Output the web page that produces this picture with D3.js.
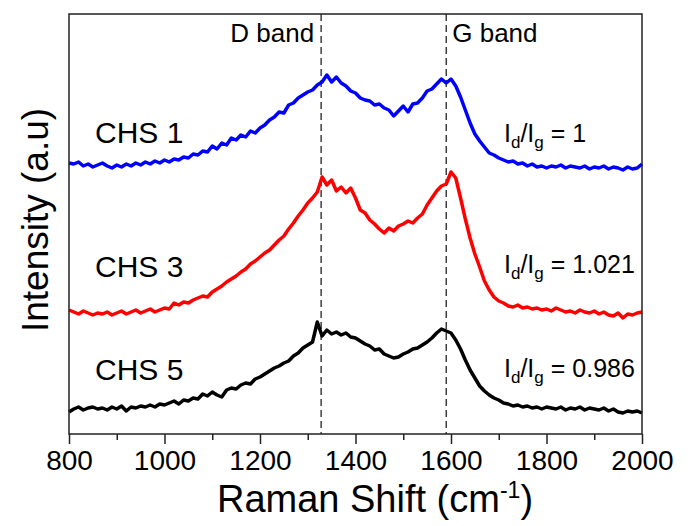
<!DOCTYPE html>
<html>
<head>
<meta charset="utf-8">
<script src="https://cdn.jsdelivr.net/npm/d3@7"></script>
<style>
  body { margin: 0; background: #fff; }
  text { font-family: "Liberation Sans", Arial, sans-serif; fill: #000; }
</style>
</head>
<body>
<script>
// raman shift values, every 10 cm-1 from 800 to 2000
var shifts = d3.range(800, 2001, 10);

// intensity (a.u.) of each sample, stacked with an offset
var chs1 = [271,270,272,268,270,267,269,271,268,266,269,267,270,268,271,269,272,270,273,271,
    274,272,275,274,277,276,280,279,283,282,288,285,291,289,296,294,299,297,303,301,
    306,309,314,317,322,321,329,331,336,339,342,344,349,352,359,352,357,351,348,343,
    341,336,334,333,329,330,326,324,318,323,328,322,330,331,336,343,345,350,355,351,
    355,348,337,324,311,300,293,287,281,279,276,274,272,273,270,271,268,270,267,268,
    266,268,267,269,266,268,267,266,268,265,267,266,268,265,267,266,264,267,265,266,270];

var chs3 = [124,122,120,123,121,119,121,120,122,119,121,123,120,122,124,121,123,125,122,124,
    126,125,131,129,132,131,134,136,138,137,142,145,148,152,155,158,162,165,170,173,
    177,181,184,189,194,198,205,211,218,224,231,236,242,257,249,254,243,247,241,246,
    236,224,221,214,210,205,201,206,203,208,210,213,211,216,220,229,236,243,248,250,
    262,256,236,215,196,180,167,153,144,137,133,131,128,127,129,126,127,125,126,124,
    125,123,126,124,122,123,121,124,122,121,123,120,122,119,118,121,116,120,119,121,122];

var chs5 = [22,25,27,24,26,27,25,26,24,27,25,28,23,27,26,28,27,29,27,30,
    29,31,33,30,34,33,36,35,40,38,42,39,37,44,46,45,49,51,50,55,
    57,60,63,66,68,71,73,78,81,86,89,92,112,98,104,100,102,99,101,97,
    96,93,90,88,84,85,80,78,76,77,80,82,85,86,89,92,96,101,105,103,
    101,94,85,74,64,56,48,43,39,36,34,31,30,28,29,27,28,26,27,25,
    27,26,25,27,24,26,25,27,24,26,25,24,26,23,25,22,21,23,22,23,21];

// sample names, colours and the Id/Ig ratios
var samples = ['CHS 1', 'CHS 3', 'CHS 5'];
var colors = ['#0000ff', '#ff0000', '#000000'];
var ratios = ['1', '1.021', '0.986'];

// band positions for the dashed guides
var bands = [{ name: 'D band', pos: 1328 }, { name: 'G band', pos: 1590 }];

// axis ticks
var majorTicks = [800, 1000, 1200, 1400, 1600, 1800, 2000];
var minorTicks = d3.range(900, 2000, 200);

var width = 693,
    height = 526;
var margin = { top: 14, right: 51, bottom: 92, left: 69 };

var svg = d3.select('body')
    .append('svg')
    .attr('width', width)
    .attr('height', height);

// scales
var x = d3.scaleLinear()
    .domain([800, 2000])
    .range([margin.left, width - margin.right]);

var y = d3.scaleLinear()
    .domain([0, 420])
    .range([height - margin.bottom, margin.top]);

var line = d3.line()
    .x(function(d) { return x(d[0]); })
    .y(function(d) { return y(d[1]); });

// dashed band guides
svg.selectAll('.band')
    .data(bands)
    .enter().append('line')
    .attr('class', 'band')
    .attr('x1', function(d) { return x(d.pos); })
    .attr('x2', function(d) { return x(d.pos); })
    .attr('y1', y(420))
    .attr('y2', y(0))
    .attr('stroke', '#222')
    .attr('stroke-width', 1.3)
    .attr('stroke-dasharray', '7,4');

svg.selectAll('.band-label')
    .data(bands)
    .enter().append('text')
    .attr('class', 'band-label')
    .attr('x', function(d, i) { return x(d.pos) + (i == 0 ? -7 : 6); })
    .attr('y', 42)
    .attr('text-anchor', function(d, i) { return i == 0 ? 'end' : 'start'; })
    .attr('font-size', 26)
    .text(function(d) { return d.name; });

// spectra
var series = [chs1, chs3, chs5];
svg.selectAll('.spectrum')
    .data(series)
    .enter().append('path')
    .attr('class', 'spectrum')
    .attr('d', function(s) { return line(shifts.map(function(v, i) { return [v, s[i]]; })); })
    .attr('fill', 'none')
    .attr('stroke', function(d, i) { return colors[i]; })
    .attr('stroke-width', 3.5)
    .attr('stroke-linejoin', 'round');

// sample names
var nameY = [143, 277, 380];
svg.selectAll('.name')
    .data(samples)
    .enter().append('text')
    .attr('class', 'name')
    .attr('x', 95)
    .attr('y', function(d, i) { return nameY[i]; })
    .attr('font-size', 30)
    .text(function(d) { return d; });

// Id/Ig ratio labels with subscripts
var ratioY = [142, 273, 377];
var ratioText = svg.selectAll('.ratio')
    .data(ratios)
    .enter().append('text')
    .attr('class', 'ratio')
    .attr('x', 504)
    .attr('y', function(d, i) { return ratioY[i]; })
    .attr('font-size', 25);
ratioText.append('tspan').text('I');
ratioText.append('tspan').attr('dy', 6).attr('font-size', 17).text('d');
ratioText.append('tspan').attr('dy', -6).text('/I');
ratioText.append('tspan').attr('dy', 6).attr('font-size', 17).text('g');
ratioText.append('tspan').attr('dy', -6).text(function(d) { return ' = ' + d; });

// frame
svg.append('rect')
    .attr('x', margin.left)
    .attr('y', margin.top)
    .attr('width', width - margin.left - margin.right)
    .attr('height', height - margin.top - margin.bottom)
    .attr('fill', 'none')
    .attr('stroke', '#222')
    .attr('stroke-width', 1.5);

// x axis with major and minor ticks
var xAxis = svg.append('g')
    .attr('transform', 'translate(0,' + (height - margin.bottom) + ')')
    .call(d3.axisBottom(x).tickValues(majorTicks).tickSize(10).tickPadding(6).tickFormat(d3.format('d')));
xAxis.select('.domain').remove();
xAxis.selectAll('line').attr('stroke', '#222').attr('stroke-width', 1.5);
xAxis.selectAll('text')
    .attr('font-size', 28)
    .attr('font-family', '"Liberation Sans", Arial, sans-serif');

svg.append('g')
    .attr('transform', 'translate(0,' + (height - margin.bottom) + ')')
    .call(d3.axisBottom(x).tickValues(minorTicks).tickSize(6).tickFormat(''))
    .call(function(g) { g.select('.domain').remove(); })
    .selectAll('line').attr('stroke', '#222').attr('stroke-width', 1.5);

// axis titles
var xTitle = svg.append('text')
    .attr('x', 375)
    .attr('y', 512)
    .attr('text-anchor', 'middle')
    .attr('font-size', 38);
xTitle.append('tspan').text('Raman Shift (cm');
xTitle.append('tspan').attr('dy', -14).attr('font-size', 23).text('-1');
xTitle.append('tspan').attr('dy', 14).text(')');

svg.append('text')
    .attr('transform', 'translate(48,220) rotate(-90)')
    .attr('text-anchor', 'middle')
    .attr('font-size', 37)
    .text('Intensity (a.u)');
</script>
</body>
</html>
